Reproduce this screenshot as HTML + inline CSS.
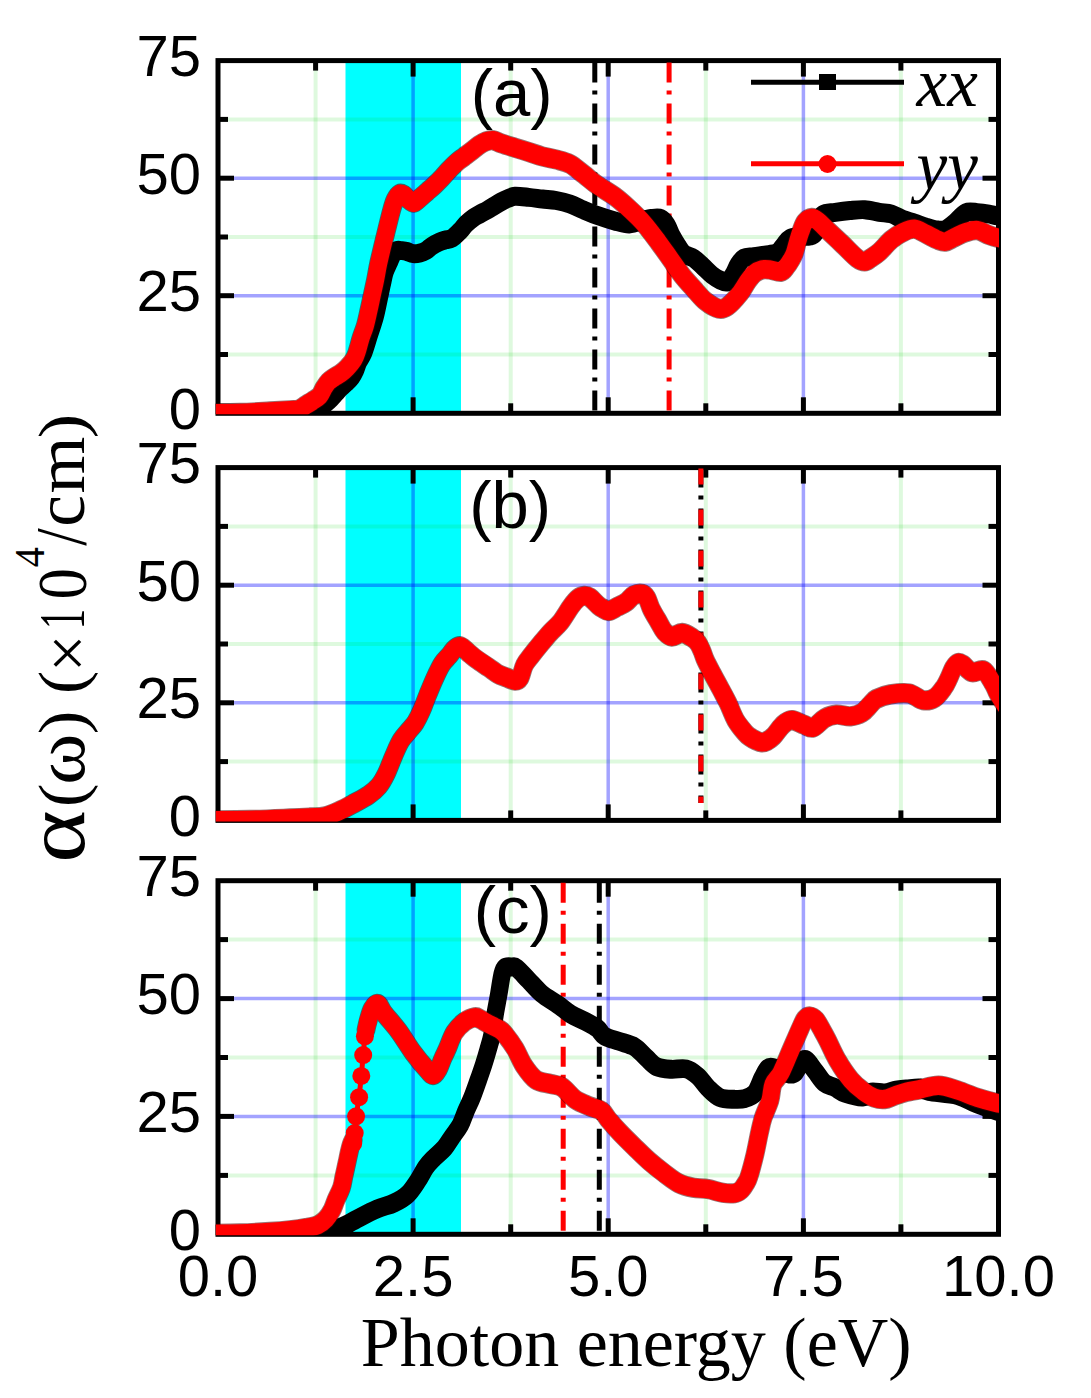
<!DOCTYPE html>
<html><head><meta charset="utf-8"><style>
html,body{margin:0;padding:0;background:#fff;}
svg{display:block;}
.gm{stroke:rgba(0,210,0,0.13);stroke-width:4;}
.gM{stroke:rgba(0,0,255,0.36);stroke-width:3.5;}
.tk{stroke:#000;stroke-width:5;}
text{font-family:"Liberation Sans",sans-serif;}
.yl{font-size:58px;text-anchor:end;}
.xl{font-size:58px;text-anchor:middle;}
.pl{font-size:67px;}
.lg{font-family:"Liberation Serif",serif;font-style:italic;font-size:69px;}
.xt{font-family:"Liberation Serif",serif;font-size:70px;}
.yt{font-family:"Liberation Serif",serif;font-size:100px;}
</style></head><body>
<svg width="1091" height="1398" viewBox="0 0 1091 1398">
<defs><clipPath id="cpa"><rect x="215.8" y="58.1" width="783.2" height="356.2"/></clipPath><clipPath id="cpb"><rect x="215.8" y="465.1" width="783.2" height="356.3"/></clipPath><clipPath id="cpc"><rect x="215.8" y="878.2" width="783.2" height="357.1"/></clipPath></defs>
<g><rect x="0" y="0" width="1091" height="1398" fill="#fff"/>
<rect x="345.5" y="60.6" width="115.5" height="352.7" fill="#00ffff"/>
<line x1="315.6" y1="60.6" x2="315.6" y2="413.3" class="gm"/>
<line x1="510.7" y1="60.6" x2="510.7" y2="413.3" class="gm"/>
<line x1="705.8" y1="60.6" x2="705.8" y2="413.3" class="gm"/>
<line x1="900.9" y1="60.6" x2="900.9" y2="413.3" class="gm"/>
<line x1="218.0" y1="354.5" x2="998.5" y2="354.5" class="gm"/>
<line x1="218.0" y1="237.0" x2="998.5" y2="237.0" class="gm"/>
<line x1="218.0" y1="119.4" x2="998.5" y2="119.4" class="gm"/>
<line x1="413.1" y1="60.6" x2="413.1" y2="413.3" class="gM"/>
<line x1="608.2" y1="60.6" x2="608.2" y2="413.3" class="gM"/>
<line x1="803.4" y1="60.6" x2="803.4" y2="413.3" class="gM"/>
<line x1="218.0" y1="295.7" x2="998.5" y2="295.7" class="gM"/>
<line x1="218.0" y1="178.2" x2="998.5" y2="178.2" class="gM"/>
<line x1="413.1" y1="60.6" x2="413.1" y2="76.6" class="tk"/>
<line x1="413.1" y1="413.3" x2="413.1" y2="397.3" class="tk"/>
<line x1="608.2" y1="60.6" x2="608.2" y2="76.6" class="tk"/>
<line x1="608.2" y1="413.3" x2="608.2" y2="397.3" class="tk"/>
<line x1="803.4" y1="60.6" x2="803.4" y2="76.6" class="tk"/>
<line x1="803.4" y1="413.3" x2="803.4" y2="397.3" class="tk"/>
<line x1="315.6" y1="60.6" x2="315.6" y2="70.6" class="tk"/>
<line x1="315.6" y1="413.3" x2="315.6" y2="403.3" class="tk"/>
<line x1="510.7" y1="60.6" x2="510.7" y2="70.6" class="tk"/>
<line x1="510.7" y1="413.3" x2="510.7" y2="403.3" class="tk"/>
<line x1="705.8" y1="60.6" x2="705.8" y2="70.6" class="tk"/>
<line x1="705.8" y1="413.3" x2="705.8" y2="403.3" class="tk"/>
<line x1="900.9" y1="60.6" x2="900.9" y2="70.6" class="tk"/>
<line x1="900.9" y1="413.3" x2="900.9" y2="403.3" class="tk"/>
<line x1="218.0" y1="295.7" x2="234.0" y2="295.7" class="tk"/>
<line x1="998.5" y1="295.7" x2="982.5" y2="295.7" class="tk"/>
<line x1="218.0" y1="178.2" x2="234.0" y2="178.2" class="tk"/>
<line x1="998.5" y1="178.2" x2="982.5" y2="178.2" class="tk"/>
<line x1="218.0" y1="354.5" x2="228.0" y2="354.5" class="tk"/>
<line x1="998.5" y1="354.5" x2="988.5" y2="354.5" class="tk"/>
<line x1="218.0" y1="237.0" x2="228.0" y2="237.0" class="tk"/>
<line x1="998.5" y1="237.0" x2="988.5" y2="237.0" class="tk"/>
<line x1="218.0" y1="119.4" x2="228.0" y2="119.4" class="tk"/>
<line x1="998.5" y1="119.4" x2="988.5" y2="119.4" class="tk"/>
<rect x="218.0" y="60.6" width="780.5" height="352.7" fill="none" stroke="#000" stroke-width="5.0"/>
<text x="201" y="428.9" class="yl">0</text>
<text x="201" y="311.3" class="yl">25</text>
<text x="201" y="193.8" class="yl">50</text>
<text x="201" y="76.2" class="yl">75</text>
<text x="470.7" y="116.1" class="pl">(a)</text>
<rect x="345.5" y="467.6" width="115.5" height="352.8" fill="#00ffff"/>
<line x1="315.6" y1="467.6" x2="315.6" y2="820.4" class="gm"/>
<line x1="510.7" y1="467.6" x2="510.7" y2="820.4" class="gm"/>
<line x1="705.8" y1="467.6" x2="705.8" y2="820.4" class="gm"/>
<line x1="900.9" y1="467.6" x2="900.9" y2="820.4" class="gm"/>
<line x1="218.0" y1="761.6" x2="998.5" y2="761.6" class="gm"/>
<line x1="218.0" y1="644.0" x2="998.5" y2="644.0" class="gm"/>
<line x1="218.0" y1="526.4" x2="998.5" y2="526.4" class="gm"/>
<line x1="413.1" y1="467.6" x2="413.1" y2="820.4" class="gM"/>
<line x1="608.2" y1="467.6" x2="608.2" y2="820.4" class="gM"/>
<line x1="803.4" y1="467.6" x2="803.4" y2="820.4" class="gM"/>
<line x1="218.0" y1="702.8" x2="998.5" y2="702.8" class="gM"/>
<line x1="218.0" y1="585.2" x2="998.5" y2="585.2" class="gM"/>
<line x1="413.1" y1="467.6" x2="413.1" y2="483.6" class="tk"/>
<line x1="413.1" y1="820.4" x2="413.1" y2="804.4" class="tk"/>
<line x1="608.2" y1="467.6" x2="608.2" y2="483.6" class="tk"/>
<line x1="608.2" y1="820.4" x2="608.2" y2="804.4" class="tk"/>
<line x1="803.4" y1="467.6" x2="803.4" y2="483.6" class="tk"/>
<line x1="803.4" y1="820.4" x2="803.4" y2="804.4" class="tk"/>
<line x1="315.6" y1="467.6" x2="315.6" y2="477.6" class="tk"/>
<line x1="315.6" y1="820.4" x2="315.6" y2="810.4" class="tk"/>
<line x1="510.7" y1="467.6" x2="510.7" y2="477.6" class="tk"/>
<line x1="510.7" y1="820.4" x2="510.7" y2="810.4" class="tk"/>
<line x1="705.8" y1="467.6" x2="705.8" y2="477.6" class="tk"/>
<line x1="705.8" y1="820.4" x2="705.8" y2="810.4" class="tk"/>
<line x1="900.9" y1="467.6" x2="900.9" y2="477.6" class="tk"/>
<line x1="900.9" y1="820.4" x2="900.9" y2="810.4" class="tk"/>
<line x1="218.0" y1="702.8" x2="234.0" y2="702.8" class="tk"/>
<line x1="998.5" y1="702.8" x2="982.5" y2="702.8" class="tk"/>
<line x1="218.0" y1="585.2" x2="234.0" y2="585.2" class="tk"/>
<line x1="998.5" y1="585.2" x2="982.5" y2="585.2" class="tk"/>
<line x1="218.0" y1="761.6" x2="228.0" y2="761.6" class="tk"/>
<line x1="998.5" y1="761.6" x2="988.5" y2="761.6" class="tk"/>
<line x1="218.0" y1="644.0" x2="228.0" y2="644.0" class="tk"/>
<line x1="998.5" y1="644.0" x2="988.5" y2="644.0" class="tk"/>
<line x1="218.0" y1="526.4" x2="228.0" y2="526.4" class="tk"/>
<line x1="998.5" y1="526.4" x2="988.5" y2="526.4" class="tk"/>
<rect x="218.0" y="467.6" width="780.5" height="352.8" fill="none" stroke="#000" stroke-width="5.0"/>
<text x="201" y="836.0" class="yl">0</text>
<text x="201" y="718.4" class="yl">25</text>
<text x="201" y="600.8" class="yl">50</text>
<text x="201" y="483.2" class="yl">75</text>
<text x="469.2" y="528.0" class="pl">(b)</text>
<rect x="345.5" y="880.7" width="115.5" height="353.6" fill="#00ffff"/>
<line x1="315.6" y1="880.7" x2="315.6" y2="1234.3" class="gm"/>
<line x1="510.7" y1="880.7" x2="510.7" y2="1234.3" class="gm"/>
<line x1="705.8" y1="880.7" x2="705.8" y2="1234.3" class="gm"/>
<line x1="900.9" y1="880.7" x2="900.9" y2="1234.3" class="gm"/>
<line x1="218.0" y1="1175.4" x2="998.5" y2="1175.4" class="gm"/>
<line x1="218.0" y1="1057.5" x2="998.5" y2="1057.5" class="gm"/>
<line x1="218.0" y1="939.6" x2="998.5" y2="939.6" class="gm"/>
<line x1="413.1" y1="880.7" x2="413.1" y2="1234.3" class="gM"/>
<line x1="608.2" y1="880.7" x2="608.2" y2="1234.3" class="gM"/>
<line x1="803.4" y1="880.7" x2="803.4" y2="1234.3" class="gM"/>
<line x1="218.0" y1="1116.4" x2="998.5" y2="1116.4" class="gM"/>
<line x1="218.0" y1="998.6" x2="998.5" y2="998.6" class="gM"/>
<line x1="413.1" y1="880.7" x2="413.1" y2="896.7" class="tk"/>
<line x1="413.1" y1="1234.3" x2="413.1" y2="1218.3" class="tk"/>
<line x1="608.2" y1="880.7" x2="608.2" y2="896.7" class="tk"/>
<line x1="608.2" y1="1234.3" x2="608.2" y2="1218.3" class="tk"/>
<line x1="803.4" y1="880.7" x2="803.4" y2="896.7" class="tk"/>
<line x1="803.4" y1="1234.3" x2="803.4" y2="1218.3" class="tk"/>
<line x1="315.6" y1="880.7" x2="315.6" y2="890.7" class="tk"/>
<line x1="315.6" y1="1234.3" x2="315.6" y2="1224.3" class="tk"/>
<line x1="510.7" y1="880.7" x2="510.7" y2="890.7" class="tk"/>
<line x1="510.7" y1="1234.3" x2="510.7" y2="1224.3" class="tk"/>
<line x1="705.8" y1="880.7" x2="705.8" y2="890.7" class="tk"/>
<line x1="705.8" y1="1234.3" x2="705.8" y2="1224.3" class="tk"/>
<line x1="900.9" y1="880.7" x2="900.9" y2="890.7" class="tk"/>
<line x1="900.9" y1="1234.3" x2="900.9" y2="1224.3" class="tk"/>
<line x1="218.0" y1="1116.4" x2="234.0" y2="1116.4" class="tk"/>
<line x1="998.5" y1="1116.4" x2="982.5" y2="1116.4" class="tk"/>
<line x1="218.0" y1="998.6" x2="234.0" y2="998.6" class="tk"/>
<line x1="998.5" y1="998.6" x2="982.5" y2="998.6" class="tk"/>
<line x1="218.0" y1="1175.4" x2="228.0" y2="1175.4" class="tk"/>
<line x1="998.5" y1="1175.4" x2="988.5" y2="1175.4" class="tk"/>
<line x1="218.0" y1="1057.5" x2="228.0" y2="1057.5" class="tk"/>
<line x1="998.5" y1="1057.5" x2="988.5" y2="1057.5" class="tk"/>
<line x1="218.0" y1="939.6" x2="228.0" y2="939.6" class="tk"/>
<line x1="998.5" y1="939.6" x2="988.5" y2="939.6" class="tk"/>
<rect x="218.0" y="880.7" width="780.5" height="353.6" fill="none" stroke="#000" stroke-width="5.0"/>
<text x="201" y="1249.9" class="yl">0</text>
<text x="201" y="1132.0" class="yl">25</text>
<text x="201" y="1014.2" class="yl">50</text>
<text x="201" y="896.3" class="yl">75</text>
<text x="473.7" y="933.1" class="pl">(c)</text>
<line x1="594.8" y1="62.6" x2="594.8" y2="411.3" stroke="#000" stroke-width="5" stroke-dasharray="20 8 4 9" stroke-dashoffset="0.0"/>
<line x1="669.1" y1="62.6" x2="669.1" y2="411.3" stroke="#ff0000" stroke-width="5" stroke-dasharray="20 8 4 9" stroke-dashoffset="0.0"/>
<line x1="700.9" y1="467.6" x2="700.9" y2="803.0" stroke="#000" stroke-width="5" stroke-dasharray="20 8 4 9"/>
<line x1="700.9" y1="467.6" x2="700.9" y2="803.0" stroke="#ff0000" stroke-width="5" stroke-dasharray="16 12 0 13" stroke-dashoffset="-1"/>
<line x1="563.2" y1="882.7" x2="563.2" y2="1232.3" stroke="#ff0000" stroke-width="5" stroke-dasharray="20 8 4 9" stroke-dashoffset="0.0"/>
<line x1="599.3" y1="882.7" x2="599.3" y2="1232.3" stroke="#000" stroke-width="5" stroke-dasharray="20 8 4 9" stroke-dashoffset="0.0"/>
<g clip-path="url(#cpa)"><g transform="scale(1,1.080)"><path d="M205.00,382.69C222.50,382.64 291.17,382.92 310.00,382.41C328.83,381.90 315.50,381.02 318.00,379.63C320.50,378.24 322.83,375.85 325.00,374.07C327.17,372.30 329.17,370.68 331.00,368.98C332.83,367.28 334.43,365.51 336.00,363.89C337.57,362.27 338.73,360.80 340.40,359.26C342.07,357.72 344.13,356.30 346.00,354.63C347.87,352.96 350.02,351.27 351.60,349.26C353.18,347.25 354.35,344.94 355.50,342.59C356.65,340.25 357.17,337.81 358.50,335.19C359.83,332.56 361.75,330.86 363.50,326.85C365.25,322.84 367.08,316.67 369.00,311.11C370.92,305.56 373.37,299.07 375.00,293.52C376.63,287.96 377.63,282.72 378.80,277.78C379.97,272.84 380.97,268.21 382.00,263.89C383.03,259.57 383.83,255.29 385.00,251.85C386.17,248.41 387.67,246.02 389.00,243.24C390.33,240.46 391.67,237.07 393.00,235.19C394.33,233.30 395.50,232.45 397.00,231.94C398.50,231.44 400.33,231.98 402.00,232.13C403.67,232.28 405.10,232.41 407.00,232.87C408.90,233.33 411.23,234.68 413.40,234.91C415.57,235.14 417.87,234.75 420.00,234.26C422.13,233.77 424.20,233.02 426.20,231.94C428.20,230.86 429.85,229.07 432.00,227.78C434.15,226.48 436.93,225.09 439.10,224.17C441.27,223.24 442.87,222.81 445.00,222.22C447.13,221.64 449.40,222.04 451.90,220.65C454.40,219.26 457.65,216.10 460.00,213.89C462.35,211.68 463.72,209.48 466.00,207.41C468.28,205.34 471.37,203.02 473.70,201.48C476.03,199.94 477.70,199.32 480.00,198.15C482.30,196.98 485.17,195.68 487.50,194.44C489.83,193.21 491.72,192.01 494.00,190.74C496.28,189.48 498.87,188.01 501.20,186.85C503.53,185.69 505.70,184.65 508.00,183.80C510.30,182.95 511.55,181.94 515.00,181.76C518.45,181.57 524.12,182.27 528.70,182.69C533.28,183.10 537.92,183.77 542.50,184.26C547.08,184.75 551.62,184.89 556.20,185.65C560.78,186.40 565.42,187.33 570.00,188.80C574.58,190.26 579.12,192.64 583.70,194.44C588.28,196.25 592.33,197.93 597.50,199.63C602.67,201.33 609.40,203.33 614.70,204.63C620.00,205.93 624.42,207.56 629.30,207.41C634.18,207.25 640.38,204.55 644.00,203.70C647.62,202.85 648.17,202.55 651.00,202.31C653.83,202.08 658.33,201.31 661.00,202.31C663.67,203.32 665.17,205.63 667.00,208.33C668.83,211.03 670.17,215.28 672.00,218.52C673.83,221.76 676.00,225.00 678.00,227.78C680.00,230.56 681.33,233.26 684.00,235.19C686.67,237.11 690.83,237.42 694.00,239.35C697.17,241.28 700.00,244.21 703.00,246.76C706.00,249.31 709.17,252.55 712.00,254.63C714.83,256.71 717.50,258.18 720.00,259.26C722.50,260.34 724.83,261.88 727.00,261.11C729.17,260.34 731.17,257.25 733.00,254.63C734.83,252.01 736.17,247.99 738.00,245.37C739.83,242.75 741.33,240.20 744.00,238.89C746.67,237.58 749.78,238.04 754.00,237.50C758.22,236.96 765.30,236.34 769.30,235.65C773.30,234.95 775.55,234.80 778.00,233.33C780.45,231.87 782.00,228.94 784.00,226.85C786.00,224.77 787.33,222.15 790.00,220.83C792.67,219.52 796.67,219.37 800.00,218.98C803.33,218.60 807.50,219.06 810.00,218.52C812.50,217.98 813.50,217.90 815.00,215.74C816.50,213.58 817.67,208.41 819.00,205.56C820.33,202.70 820.28,200.11 823.00,198.61C825.72,197.11 830.80,197.19 835.30,196.57C839.80,195.96 845.10,195.31 850.00,194.91C854.90,194.51 859.82,193.89 864.70,194.17C869.58,194.44 874.83,195.91 879.30,196.57C883.77,197.24 887.57,197.04 891.50,198.15C895.43,199.26 899.08,201.85 902.90,203.24C906.72,204.63 910.58,205.32 914.40,206.48C918.22,207.64 921.98,209.10 925.80,210.19C929.62,211.27 934.05,212.58 937.30,212.96C940.55,213.35 942.43,213.58 945.30,212.50C948.17,211.42 951.07,209.09 954.50,206.48C957.93,203.87 962.08,198.46 965.90,196.85C969.72,195.25 973.58,196.64 977.40,196.85C981.22,197.07 985.37,197.62 988.80,198.15C992.23,198.67 994.47,199.54 998.00,200.00C1001.53,200.46 1008.00,200.77 1010.00,200.93" fill="none" stroke="#000" stroke-width="17.50" stroke-linejoin="round" stroke-linecap="round"/><path d="M205.00,382.69C210.83,382.64 229.17,382.69 240.00,382.41C250.83,382.13 261.67,381.44 270.00,381.02C278.33,380.60 285.17,380.23 290.00,379.91C294.83,379.58 296.33,379.89 299.00,379.07C301.67,378.26 303.75,376.30 306.00,375.00C308.25,373.70 310.22,372.72 312.50,371.30C314.78,369.88 317.78,368.49 319.70,366.48C321.62,364.48 322.53,361.44 324.00,359.26C325.47,357.08 326.83,355.05 328.50,353.43C330.17,351.81 331.95,350.82 334.00,349.54C336.05,348.26 338.63,347.21 340.80,345.74C342.97,344.27 344.80,342.92 347.00,340.74C349.20,338.56 352.25,335.39 354.00,332.69C355.75,329.98 356.33,327.82 357.50,324.54C358.67,321.25 359.70,316.79 361.00,312.96C362.30,309.14 363.97,305.90 365.30,301.57C366.63,297.25 367.83,291.82 369.00,287.04C370.17,282.25 371.22,277.50 372.30,272.87C373.38,268.24 374.42,264.20 375.50,259.26C376.58,254.32 377.23,249.88 378.80,243.24C380.37,236.60 382.82,227.38 384.90,219.44C386.98,211.51 389.62,201.36 391.30,195.65C392.98,189.94 393.63,187.85 395.00,185.19C396.37,182.52 398.00,180.40 399.50,179.63C401.00,178.86 402.58,179.78 404.00,180.56C405.42,181.33 406.37,183.07 408.00,184.26C409.63,185.45 411.80,187.84 413.80,187.69C415.80,187.53 417.75,185.05 420.00,183.33C422.25,181.62 424.85,179.41 427.30,177.41C429.75,175.40 432.25,173.44 434.70,171.30C437.15,169.15 439.57,166.91 442.00,164.54C444.43,162.16 446.85,159.41 449.30,157.04C451.75,154.66 454.25,152.25 456.70,150.28C459.15,148.30 461.57,146.88 464.00,145.19C466.43,143.49 468.85,141.85 471.30,140.09C473.75,138.33 476.25,136.16 478.70,134.63C481.15,133.10 483.57,131.71 486.00,130.93C488.43,130.14 490.77,129.60 493.30,129.91C495.83,130.22 497.58,131.62 501.20,132.78C504.82,133.94 510.42,135.52 515.00,136.85C519.58,138.18 524.12,139.40 528.70,140.74C533.28,142.08 537.92,143.75 542.50,144.91C547.08,146.06 551.62,146.53 556.20,147.69C560.78,148.84 565.42,149.57 570.00,151.85C574.58,154.14 579.12,158.10 583.70,161.39C588.28,164.68 592.33,168.16 597.50,171.57C602.67,174.98 609.40,178.21 614.70,181.85C620.00,185.49 624.42,189.23 629.30,193.43C634.18,197.62 639.10,201.85 644.00,207.04C648.90,212.22 654.30,219.09 658.70,224.54C663.10,229.98 666.50,234.65 670.40,239.72C674.30,244.80 678.18,250.37 682.10,255.00C686.02,259.63 689.98,263.50 693.90,267.50C697.82,271.50 701.45,275.94 705.60,278.98C709.75,282.02 715.13,284.97 718.80,285.74C722.47,286.51 724.18,285.83 727.60,283.61C731.02,281.39 735.88,276.34 739.30,272.41C742.72,268.47 745.53,263.24 748.10,260.00C750.67,256.76 752.38,254.71 754.70,252.96C757.02,251.22 759.57,250.11 762.00,249.54C764.43,248.97 766.12,249.20 769.30,249.54C772.48,249.88 778.15,252.11 781.10,251.57C784.05,251.03 785.35,248.10 787.00,246.30C788.65,244.49 789.78,242.70 791.00,240.74C792.22,238.78 793.22,237.31 794.30,234.54C795.38,231.76 796.40,227.47 797.50,224.07C798.60,220.68 799.65,217.25 800.90,214.17C802.15,211.08 803.17,207.61 805.00,205.56C806.83,203.50 809.73,202.01 811.90,201.85C814.07,201.70 815.32,202.69 818.00,204.63C820.68,206.57 823.88,209.89 828.00,213.52C832.12,217.15 837.82,222.08 842.70,226.39C847.58,230.69 853.63,236.74 857.30,239.35C860.97,241.96 862.42,242.11 864.70,242.04C866.98,241.96 868.57,240.34 871.00,238.89C873.43,237.44 875.88,236.17 879.30,233.33C882.72,230.49 887.57,224.91 891.50,221.85C895.43,218.80 899.08,216.68 902.90,215.00C906.72,213.32 910.58,211.51 914.40,211.76C918.22,212.01 921.98,214.80 925.80,216.48C929.62,218.16 934.05,220.65 937.30,221.85C940.55,223.06 942.43,224.06 945.30,223.70C948.17,223.35 951.07,221.17 954.50,219.72C957.93,218.27 962.08,216.11 965.90,215.00C969.72,213.89 973.58,212.62 977.40,213.06C981.22,213.49 985.37,216.40 988.80,217.59C992.23,218.78 994.47,219.41 998.00,220.19C1001.53,220.96 1008.00,221.88 1010.00,222.22" fill="none" stroke="rgba(70,0,0,0.55)" stroke-width="18.80" stroke-linejoin="round" stroke-linecap="round"/><path d="M205.00,382.69C210.83,382.64 229.17,382.69 240.00,382.41C250.83,382.13 261.67,381.44 270.00,381.02C278.33,380.60 285.17,380.23 290.00,379.91C294.83,379.58 296.33,379.89 299.00,379.07C301.67,378.26 303.75,376.30 306.00,375.00C308.25,373.70 310.22,372.72 312.50,371.30C314.78,369.88 317.78,368.49 319.70,366.48C321.62,364.48 322.53,361.44 324.00,359.26C325.47,357.08 326.83,355.05 328.50,353.43C330.17,351.81 331.95,350.82 334.00,349.54C336.05,348.26 338.63,347.21 340.80,345.74C342.97,344.27 344.80,342.92 347.00,340.74C349.20,338.56 352.25,335.39 354.00,332.69C355.75,329.98 356.33,327.82 357.50,324.54C358.67,321.25 359.70,316.79 361.00,312.96C362.30,309.14 363.97,305.90 365.30,301.57C366.63,297.25 367.83,291.82 369.00,287.04C370.17,282.25 371.22,277.50 372.30,272.87C373.38,268.24 374.42,264.20 375.50,259.26C376.58,254.32 377.23,249.88 378.80,243.24C380.37,236.60 382.82,227.38 384.90,219.44C386.98,211.51 389.62,201.36 391.30,195.65C392.98,189.94 393.63,187.85 395.00,185.19C396.37,182.52 398.00,180.40 399.50,179.63C401.00,178.86 402.58,179.78 404.00,180.56C405.42,181.33 406.37,183.07 408.00,184.26C409.63,185.45 411.80,187.84 413.80,187.69C415.80,187.53 417.75,185.05 420.00,183.33C422.25,181.62 424.85,179.41 427.30,177.41C429.75,175.40 432.25,173.44 434.70,171.30C437.15,169.15 439.57,166.91 442.00,164.54C444.43,162.16 446.85,159.41 449.30,157.04C451.75,154.66 454.25,152.25 456.70,150.28C459.15,148.30 461.57,146.88 464.00,145.19C466.43,143.49 468.85,141.85 471.30,140.09C473.75,138.33 476.25,136.16 478.70,134.63C481.15,133.10 483.57,131.71 486.00,130.93C488.43,130.14 490.77,129.60 493.30,129.91C495.83,130.22 497.58,131.62 501.20,132.78C504.82,133.94 510.42,135.52 515.00,136.85C519.58,138.18 524.12,139.40 528.70,140.74C533.28,142.08 537.92,143.75 542.50,144.91C547.08,146.06 551.62,146.53 556.20,147.69C560.78,148.84 565.42,149.57 570.00,151.85C574.58,154.14 579.12,158.10 583.70,161.39C588.28,164.68 592.33,168.16 597.50,171.57C602.67,174.98 609.40,178.21 614.70,181.85C620.00,185.49 624.42,189.23 629.30,193.43C634.18,197.62 639.10,201.85 644.00,207.04C648.90,212.22 654.30,219.09 658.70,224.54C663.10,229.98 666.50,234.65 670.40,239.72C674.30,244.80 678.18,250.37 682.10,255.00C686.02,259.63 689.98,263.50 693.90,267.50C697.82,271.50 701.45,275.94 705.60,278.98C709.75,282.02 715.13,284.97 718.80,285.74C722.47,286.51 724.18,285.83 727.60,283.61C731.02,281.39 735.88,276.34 739.30,272.41C742.72,268.47 745.53,263.24 748.10,260.00C750.67,256.76 752.38,254.71 754.70,252.96C757.02,251.22 759.57,250.11 762.00,249.54C764.43,248.97 766.12,249.20 769.30,249.54C772.48,249.88 778.15,252.11 781.10,251.57C784.05,251.03 785.35,248.10 787.00,246.30C788.65,244.49 789.78,242.70 791.00,240.74C792.22,238.78 793.22,237.31 794.30,234.54C795.38,231.76 796.40,227.47 797.50,224.07C798.60,220.68 799.65,217.25 800.90,214.17C802.15,211.08 803.17,207.61 805.00,205.56C806.83,203.50 809.73,202.01 811.90,201.85C814.07,201.70 815.32,202.69 818.00,204.63C820.68,206.57 823.88,209.89 828.00,213.52C832.12,217.15 837.82,222.08 842.70,226.39C847.58,230.69 853.63,236.74 857.30,239.35C860.97,241.96 862.42,242.11 864.70,242.04C866.98,241.96 868.57,240.34 871.00,238.89C873.43,237.44 875.88,236.17 879.30,233.33C882.72,230.49 887.57,224.91 891.50,221.85C895.43,218.80 899.08,216.68 902.90,215.00C906.72,213.32 910.58,211.51 914.40,211.76C918.22,212.01 921.98,214.80 925.80,216.48C929.62,218.16 934.05,220.65 937.30,221.85C940.55,223.06 942.43,224.06 945.30,223.70C948.17,223.35 951.07,221.17 954.50,219.72C957.93,218.27 962.08,216.11 965.90,215.00C969.72,213.89 973.58,212.62 977.40,213.06C981.22,213.49 985.37,216.40 988.80,217.59C992.23,218.78 994.47,219.41 998.00,220.19C1001.53,220.96 1008.00,221.88 1010.00,222.22" fill="none" stroke="#ff0000" stroke-width="17.20" stroke-linejoin="round" stroke-linecap="round"/></g></g>
<g clip-path="url(#cpb)"><g transform="scale(1,1.080)"><path d="M205.00,759.63C212.50,759.57 235.83,759.55 250.00,759.26C264.17,758.97 280.00,758.26 290.00,757.87C300.00,757.48 304.22,757.25 310.00,756.94C315.78,756.64 319.82,757.02 324.70,756.02C329.58,755.02 334.42,752.95 339.30,750.93C344.18,748.90 349.10,746.36 354.00,743.89C358.90,741.42 364.55,738.80 368.70,736.11C372.85,733.43 375.97,731.06 378.90,727.78C381.83,724.49 383.85,721.00 386.30,716.39C388.75,711.77 391.17,705.19 393.60,700.09C396.03,695.00 398.22,689.91 400.90,685.83C403.58,681.76 407.25,678.49 409.70,675.65C412.15,672.81 413.63,671.73 415.60,668.80C417.57,665.86 419.55,662.11 421.50,658.06C423.45,654.00 425.10,649.43 427.30,644.44C429.50,639.46 432.25,633.09 434.70,628.15C437.15,623.21 439.57,618.35 442.00,614.81C444.43,611.28 447.13,609.34 449.30,606.94C451.47,604.55 453.05,601.85 455.00,600.46C456.95,599.07 458.50,597.76 461.00,598.61C463.50,599.46 467.33,603.53 470.00,605.56C472.67,607.58 473.88,608.66 477.00,610.74C480.12,612.82 485.28,615.88 488.70,618.06C492.12,620.23 494.57,622.27 497.50,623.80C500.43,625.32 503.37,626.16 506.30,627.22C509.23,628.29 512.82,630.09 515.10,630.19C517.38,630.28 518.43,630.19 520.00,627.78C521.57,625.37 522.62,619.21 524.50,615.74C526.38,612.27 528.70,610.11 531.30,606.94C533.90,603.78 536.93,600.31 540.10,596.76C543.27,593.21 546.88,589.12 550.30,585.65C553.72,582.18 557.17,579.94 560.60,575.93C564.03,571.91 567.97,565.25 570.90,561.57C573.83,557.90 576.00,555.52 578.20,553.89C580.40,552.25 582.15,551.88 584.10,551.76C586.05,551.64 587.47,551.62 589.90,553.15C592.33,554.68 596.52,559.21 598.70,560.93C600.88,562.64 601.32,562.62 603.00,563.43C604.68,564.23 606.37,566.02 608.80,565.74C611.23,565.46 614.67,563.15 617.60,561.76C620.53,560.37 623.72,559.17 626.40,557.41C629.08,555.65 631.02,552.44 633.70,551.20C636.38,549.97 640.28,549.58 642.50,550.00C644.72,550.42 645.53,551.40 647.00,553.70C648.47,556.00 649.35,560.09 651.30,563.80C653.25,567.50 656.50,572.41 658.70,575.93C660.90,579.44 662.30,582.65 664.50,584.91C666.70,587.16 668.97,589.24 671.90,589.44C674.83,589.65 678.68,585.93 682.10,586.11C685.52,586.30 689.75,589.01 692.40,590.56C695.05,592.10 696.40,593.33 698.00,595.37C699.60,597.41 700.77,600.15 702.00,602.78C703.23,605.40 703.73,607.72 705.40,611.11C707.07,614.51 709.37,618.52 712.00,623.15C714.63,627.78 718.53,634.26 721.20,638.89C723.87,643.52 725.60,646.30 728.00,650.93C730.40,655.56 732.73,662.07 735.60,666.67C738.47,671.27 742.80,675.90 745.20,678.52C747.60,681.14 748.30,681.28 750.00,682.41C751.70,683.53 753.45,684.46 755.40,685.28C757.35,686.10 759.77,687.18 761.70,687.31C763.63,687.45 765.05,687.04 767.00,686.11C768.95,685.19 771.23,683.77 773.40,681.76C775.57,679.75 778.05,676.13 780.00,674.07C781.95,672.02 783.08,670.66 785.10,669.44C787.12,668.23 788.98,666.50 792.10,666.76C795.22,667.02 800.30,669.88 803.80,671.02C807.30,672.16 809.60,674.61 813.10,673.61C816.60,672.61 820.90,666.98 824.80,665.00C828.70,663.02 832.22,662.05 836.50,661.76C840.78,661.47 846.22,663.56 850.50,663.24C854.78,662.92 858.95,661.56 862.20,659.81C865.45,658.07 867.67,654.88 870.00,652.78C872.33,650.68 872.82,648.86 876.20,647.22C879.58,645.59 884.83,643.83 890.30,642.96C895.77,642.10 903.55,641.14 909.00,642.04C914.45,642.93 918.72,647.64 923.00,648.33C927.28,649.03 931.20,648.18 934.70,646.20C938.20,644.23 941.62,639.55 944.00,636.48C946.38,633.41 947.43,630.77 949.00,627.78C950.57,624.78 951.90,620.83 953.40,618.52C954.90,616.20 956.45,614.43 958.00,613.89C959.55,613.35 960.35,613.86 962.70,615.28C965.05,616.70 968.58,621.47 972.10,622.41C975.62,623.35 980.30,619.15 983.80,620.93C987.30,622.70 990.77,629.52 993.10,633.06C995.43,636.59 995.82,638.84 997.80,642.13C999.78,645.42 1003.80,651.00 1005.00,652.78" fill="none" stroke="rgba(70,0,0,0.55)" stroke-width="18.80" stroke-linejoin="round" stroke-linecap="round"/><path d="M205.00,759.63C212.50,759.57 235.83,759.55 250.00,759.26C264.17,758.97 280.00,758.26 290.00,757.87C300.00,757.48 304.22,757.25 310.00,756.94C315.78,756.64 319.82,757.02 324.70,756.02C329.58,755.02 334.42,752.95 339.30,750.93C344.18,748.90 349.10,746.36 354.00,743.89C358.90,741.42 364.55,738.80 368.70,736.11C372.85,733.43 375.97,731.06 378.90,727.78C381.83,724.49 383.85,721.00 386.30,716.39C388.75,711.77 391.17,705.19 393.60,700.09C396.03,695.00 398.22,689.91 400.90,685.83C403.58,681.76 407.25,678.49 409.70,675.65C412.15,672.81 413.63,671.73 415.60,668.80C417.57,665.86 419.55,662.11 421.50,658.06C423.45,654.00 425.10,649.43 427.30,644.44C429.50,639.46 432.25,633.09 434.70,628.15C437.15,623.21 439.57,618.35 442.00,614.81C444.43,611.28 447.13,609.34 449.30,606.94C451.47,604.55 453.05,601.85 455.00,600.46C456.95,599.07 458.50,597.76 461.00,598.61C463.50,599.46 467.33,603.53 470.00,605.56C472.67,607.58 473.88,608.66 477.00,610.74C480.12,612.82 485.28,615.88 488.70,618.06C492.12,620.23 494.57,622.27 497.50,623.80C500.43,625.32 503.37,626.16 506.30,627.22C509.23,628.29 512.82,630.09 515.10,630.19C517.38,630.28 518.43,630.19 520.00,627.78C521.57,625.37 522.62,619.21 524.50,615.74C526.38,612.27 528.70,610.11 531.30,606.94C533.90,603.78 536.93,600.31 540.10,596.76C543.27,593.21 546.88,589.12 550.30,585.65C553.72,582.18 557.17,579.94 560.60,575.93C564.03,571.91 567.97,565.25 570.90,561.57C573.83,557.90 576.00,555.52 578.20,553.89C580.40,552.25 582.15,551.88 584.10,551.76C586.05,551.64 587.47,551.62 589.90,553.15C592.33,554.68 596.52,559.21 598.70,560.93C600.88,562.64 601.32,562.62 603.00,563.43C604.68,564.23 606.37,566.02 608.80,565.74C611.23,565.46 614.67,563.15 617.60,561.76C620.53,560.37 623.72,559.17 626.40,557.41C629.08,555.65 631.02,552.44 633.70,551.20C636.38,549.97 640.28,549.58 642.50,550.00C644.72,550.42 645.53,551.40 647.00,553.70C648.47,556.00 649.35,560.09 651.30,563.80C653.25,567.50 656.50,572.41 658.70,575.93C660.90,579.44 662.30,582.65 664.50,584.91C666.70,587.16 668.97,589.24 671.90,589.44C674.83,589.65 678.68,585.93 682.10,586.11C685.52,586.30 689.75,589.01 692.40,590.56C695.05,592.10 696.40,593.33 698.00,595.37C699.60,597.41 700.77,600.15 702.00,602.78C703.23,605.40 703.73,607.72 705.40,611.11C707.07,614.51 709.37,618.52 712.00,623.15C714.63,627.78 718.53,634.26 721.20,638.89C723.87,643.52 725.60,646.30 728.00,650.93C730.40,655.56 732.73,662.07 735.60,666.67C738.47,671.27 742.80,675.90 745.20,678.52C747.60,681.14 748.30,681.28 750.00,682.41C751.70,683.53 753.45,684.46 755.40,685.28C757.35,686.10 759.77,687.18 761.70,687.31C763.63,687.45 765.05,687.04 767.00,686.11C768.95,685.19 771.23,683.77 773.40,681.76C775.57,679.75 778.05,676.13 780.00,674.07C781.95,672.02 783.08,670.66 785.10,669.44C787.12,668.23 788.98,666.50 792.10,666.76C795.22,667.02 800.30,669.88 803.80,671.02C807.30,672.16 809.60,674.61 813.10,673.61C816.60,672.61 820.90,666.98 824.80,665.00C828.70,663.02 832.22,662.05 836.50,661.76C840.78,661.47 846.22,663.56 850.50,663.24C854.78,662.92 858.95,661.56 862.20,659.81C865.45,658.07 867.67,654.88 870.00,652.78C872.33,650.68 872.82,648.86 876.20,647.22C879.58,645.59 884.83,643.83 890.30,642.96C895.77,642.10 903.55,641.14 909.00,642.04C914.45,642.93 918.72,647.64 923.00,648.33C927.28,649.03 931.20,648.18 934.70,646.20C938.20,644.23 941.62,639.55 944.00,636.48C946.38,633.41 947.43,630.77 949.00,627.78C950.57,624.78 951.90,620.83 953.40,618.52C954.90,616.20 956.45,614.43 958.00,613.89C959.55,613.35 960.35,613.86 962.70,615.28C965.05,616.70 968.58,621.47 972.10,622.41C975.62,623.35 980.30,619.15 983.80,620.93C987.30,622.70 990.77,629.52 993.10,633.06C995.43,636.59 995.82,638.84 997.80,642.13C999.78,645.42 1003.80,651.00 1005.00,652.78" fill="none" stroke="#ff0000" stroke-width="17.20" stroke-linejoin="round" stroke-linecap="round"/></g></g>
<g clip-path="url(#cpc)"><g transform="scale(1,1.080)"><path d="M205.00,1142.87C224.17,1142.87 298.50,1143.53 320.00,1142.87C341.50,1142.21 329.67,1140.32 334.00,1138.89C338.33,1137.45 342.10,1136.00 346.00,1134.26C349.90,1132.52 352.23,1130.90 357.40,1128.43C362.57,1125.96 370.90,1121.87 377.00,1119.44C383.10,1117.02 388.92,1116.13 394.00,1113.89C399.08,1111.65 403.50,1109.49 407.50,1106.02C411.50,1102.55 414.92,1097.30 418.00,1093.06C421.08,1088.81 423.33,1084.03 426.00,1080.56C428.67,1077.08 430.92,1075.15 434.00,1072.22C437.08,1069.29 441.50,1066.20 444.50,1062.96C447.50,1059.72 449.37,1056.33 452.00,1052.78C454.63,1049.23 457.97,1045.68 460.30,1041.67C462.63,1037.65 464.05,1032.95 466.00,1028.70C467.95,1024.46 470.00,1020.83 472.00,1016.20C474.00,1011.57 476.08,1005.94 478.00,1000.93C479.92,995.91 481.83,990.90 483.50,986.11C485.17,981.33 486.58,976.85 488.00,972.22C489.42,967.59 490.83,963.73 492.00,958.33C493.17,952.93 493.87,946.14 495.00,939.81C496.13,933.49 497.63,926.54 498.80,920.37C499.97,914.20 500.97,906.87 502.00,902.78C503.03,898.69 503.33,897.07 505.00,895.83C506.67,894.60 510.05,895.29 512.00,895.37C513.95,895.45 513.97,894.29 516.70,896.30C519.43,898.30 524.25,903.46 528.40,907.41C532.55,911.36 536.72,916.22 541.60,920.00C546.48,923.78 552.82,926.91 557.70,930.09C562.58,933.27 566.25,936.45 570.90,939.07C575.55,941.70 581.20,943.66 585.60,945.83C590.00,948.01 594.12,949.86 597.30,952.13C600.48,954.40 601.03,957.42 604.70,959.44C608.37,961.47 614.30,962.61 619.30,964.26C624.30,965.91 630.18,966.82 634.70,969.35C639.22,971.88 642.73,976.39 646.40,979.44C650.07,982.50 652.55,985.91 656.70,987.69C660.85,989.46 666.42,989.75 671.30,990.09C676.18,990.43 681.60,988.69 686.00,989.72C690.40,990.76 694.03,993.35 697.70,996.30C701.37,999.24 704.33,1004.09 708.00,1007.41C711.67,1010.73 715.30,1014.46 719.70,1016.20C724.10,1017.95 730.23,1017.70 734.40,1017.87C738.57,1018.04 741.28,1018.19 744.70,1017.22C748.12,1016.25 751.98,1015.22 754.90,1012.04C757.82,1008.86 760.00,1002.01 762.20,998.15C764.40,994.29 766.02,990.43 768.10,988.89C770.18,987.35 772.38,988.43 774.70,988.89C777.02,989.35 779.57,990.74 782.00,991.67C784.43,992.59 787.10,994.21 789.30,994.44C791.50,994.68 793.23,994.91 795.20,993.06C797.17,991.20 799.47,985.34 801.10,983.33C802.73,981.33 803.78,981.02 805.00,981.02C806.22,981.02 806.62,981.44 808.40,983.33C810.18,985.23 813.02,989.17 815.70,992.41C818.38,995.65 821.32,1000.35 824.50,1002.78C827.68,1005.20 831.37,1005.35 834.80,1006.94C838.23,1008.53 840.45,1010.85 845.10,1012.31C849.75,1013.78 858.30,1015.94 862.70,1015.74C867.10,1015.54 867.83,1011.73 871.50,1011.11C875.17,1010.49 880.55,1012.35 884.70,1012.04C888.85,1011.73 892.75,1009.88 896.40,1009.26C900.05,1008.64 902.67,1008.64 906.60,1008.33C910.53,1008.02 916.28,1007.02 920.00,1007.41C923.72,1007.79 922.62,1009.49 928.90,1010.65C935.18,1011.81 949.68,1012.42 957.70,1014.35C965.72,1016.28 970.58,1019.86 977.00,1022.22C983.42,1024.58 990.70,1026.98 996.20,1028.52C1001.70,1030.06 1007.70,1030.99 1010.00,1031.48" fill="none" stroke="#000" stroke-width="17.50" stroke-linejoin="round" stroke-linecap="round"/><path d="M205.00,1142.59C210.83,1142.52 229.17,1142.44 240.00,1142.13C250.83,1141.82 261.67,1141.23 270.00,1140.74C278.33,1140.25 284.00,1139.78 290.00,1139.17C296.00,1138.55 301.33,1137.85 306.00,1137.04C310.67,1136.22 314.67,1135.65 318.00,1134.26C321.33,1132.87 323.67,1131.02 326.00,1128.70C328.33,1126.39 330.33,1123.30 332.00,1120.37C333.67,1117.44 334.42,1114.55 336.00,1111.11C337.58,1107.67 340.17,1103.43 341.50,1099.72C342.83,1096.02 343.10,1092.70 344.00,1088.89C344.90,1085.08 346.07,1080.40 346.90,1076.85C347.73,1073.30 348.32,1070.37 349.00,1067.59C349.68,1064.81 350.30,1062.19 351.00,1060.19C351.70,1058.18 352.83,1056.33 353.20,1055.56" fill="none" stroke="rgba(70,0,0,0.55)" stroke-width="18.80" stroke-linejoin="round" stroke-linecap="round"/><path d="M205.00,1142.59C210.83,1142.52 229.17,1142.44 240.00,1142.13C250.83,1141.82 261.67,1141.23 270.00,1140.74C278.33,1140.25 284.00,1139.78 290.00,1139.17C296.00,1138.55 301.33,1137.85 306.00,1137.04C310.67,1136.22 314.67,1135.65 318.00,1134.26C321.33,1132.87 323.67,1131.02 326.00,1128.70C328.33,1126.39 330.33,1123.30 332.00,1120.37C333.67,1117.44 334.42,1114.55 336.00,1111.11C337.58,1107.67 340.17,1103.43 341.50,1099.72C342.83,1096.02 343.10,1092.70 344.00,1088.89C344.90,1085.08 346.07,1080.40 346.90,1076.85C347.73,1073.30 348.32,1070.37 349.00,1067.59C349.68,1064.81 350.30,1062.19 351.00,1060.19C351.70,1058.18 352.83,1056.33 353.20,1055.56" fill="none" stroke="#ff0000" stroke-width="17.20" stroke-linejoin="round" stroke-linecap="round"/><path d="M366.00,953.70C366.32,952.42 366.90,949.26 367.90,946.02C368.90,942.78 370.32,936.99 372.00,934.26C373.68,931.53 376.00,928.98 378.00,929.63C380.00,930.28 380.55,933.97 384.00,938.15C387.45,942.33 393.82,948.61 398.70,954.72C403.58,960.83 408.42,968.70 413.30,974.81C418.18,980.93 424.63,987.96 428.00,991.39C431.37,994.81 431.75,995.63 433.50,995.37C435.25,995.11 436.92,992.44 438.50,989.81C440.08,987.19 441.57,982.67 443.00,979.63C444.43,976.59 445.20,975.49 447.10,971.57C449.00,967.65 451.47,960.37 454.40,956.11C457.33,951.85 461.28,948.38 464.70,946.02C468.12,943.66 472.35,942.36 474.90,941.94C477.45,941.53 478.05,942.69 480.00,943.52C481.95,944.35 484.15,945.71 486.60,946.94C489.05,948.18 492.47,949.83 494.70,950.93C496.93,952.02 498.30,952.39 500.00,953.52C501.70,954.65 502.37,954.75 504.90,957.69C507.43,960.62 512.02,966.25 515.20,971.11C518.38,975.97 520.58,982.10 524.00,986.85C527.42,991.60 531.30,996.84 535.70,999.63C540.10,1002.42 546.00,1002.45 550.40,1003.61C554.80,1004.77 557.95,1004.17 562.10,1006.57C566.25,1008.98 570.65,1015.06 575.30,1018.06C579.95,1021.05 585.60,1022.76 590.00,1024.54C594.40,1026.31 598.57,1026.62 601.70,1028.70C604.83,1030.79 605.75,1033.70 608.80,1037.04C611.85,1040.37 615.68,1044.49 620.00,1048.70C624.32,1052.92 629.82,1057.90 634.70,1062.31C639.58,1066.73 644.42,1071.22 649.30,1075.19C654.18,1079.15 659.10,1082.72 664.00,1086.11C668.90,1089.51 673.82,1093.29 678.70,1095.56C683.58,1097.82 688.42,1098.81 693.30,1099.72C698.18,1100.63 703.10,1100.23 708.00,1101.02C712.90,1101.81 718.30,1103.81 722.70,1104.44C727.10,1105.08 731.35,1105.25 734.40,1104.81C737.45,1104.38 739.07,1103.43 741.00,1101.85C742.93,1100.28 744.67,1097.44 746.00,1095.37C747.33,1093.30 747.52,1093.81 749.00,1089.44C750.48,1085.08 753.15,1075.94 754.90,1069.17C756.65,1062.39 758.13,1054.46 759.50,1048.80C760.87,1043.13 761.35,1040.20 763.10,1035.19C764.85,1030.17 768.35,1023.90 770.00,1018.70C771.65,1013.50 771.17,1008.23 773.00,1003.98C774.83,999.74 778.07,998.43 781.00,993.24C783.93,988.06 787.40,979.66 790.60,972.87C793.80,966.08 797.80,957.39 800.20,952.50C802.60,947.61 803.37,945.40 805.00,943.52C806.63,941.64 808.17,941.05 810.00,941.20C811.83,941.36 814.00,942.36 816.00,944.44C818.00,946.53 820.10,950.62 822.00,953.70C823.90,956.79 824.85,958.33 827.40,962.96C829.95,967.59 833.38,975.31 837.30,981.48C841.22,987.65 846.67,995.25 850.90,1000.00C855.13,1004.75 858.78,1007.27 862.70,1010.00C866.62,1012.73 870.73,1015.11 874.40,1016.39C878.07,1017.67 881.28,1018.02 884.70,1017.69C888.12,1017.35 891.25,1015.48 894.90,1014.35C898.55,1013.23 902.55,1011.85 906.60,1010.93C910.65,1010.00 913.88,1009.75 919.20,1008.80C924.52,1007.84 932.08,1005.05 938.50,1005.19C944.92,1005.32 951.28,1007.76 957.70,1009.63C964.12,1011.50 970.58,1014.46 977.00,1016.39C983.42,1018.32 990.70,1020.08 996.20,1021.20C1001.70,1022.33 1007.70,1022.82 1010.00,1023.15" fill="none" stroke="rgba(70,0,0,0.55)" stroke-width="18.80" stroke-linejoin="round" stroke-linecap="round"/><path d="M366.00,953.70C366.32,952.42 366.90,949.26 367.90,946.02C368.90,942.78 370.32,936.99 372.00,934.26C373.68,931.53 376.00,928.98 378.00,929.63C380.00,930.28 380.55,933.97 384.00,938.15C387.45,942.33 393.82,948.61 398.70,954.72C403.58,960.83 408.42,968.70 413.30,974.81C418.18,980.93 424.63,987.96 428.00,991.39C431.37,994.81 431.75,995.63 433.50,995.37C435.25,995.11 436.92,992.44 438.50,989.81C440.08,987.19 441.57,982.67 443.00,979.63C444.43,976.59 445.20,975.49 447.10,971.57C449.00,967.65 451.47,960.37 454.40,956.11C457.33,951.85 461.28,948.38 464.70,946.02C468.12,943.66 472.35,942.36 474.90,941.94C477.45,941.53 478.05,942.69 480.00,943.52C481.95,944.35 484.15,945.71 486.60,946.94C489.05,948.18 492.47,949.83 494.70,950.93C496.93,952.02 498.30,952.39 500.00,953.52C501.70,954.65 502.37,954.75 504.90,957.69C507.43,960.62 512.02,966.25 515.20,971.11C518.38,975.97 520.58,982.10 524.00,986.85C527.42,991.60 531.30,996.84 535.70,999.63C540.10,1002.42 546.00,1002.45 550.40,1003.61C554.80,1004.77 557.95,1004.17 562.10,1006.57C566.25,1008.98 570.65,1015.06 575.30,1018.06C579.95,1021.05 585.60,1022.76 590.00,1024.54C594.40,1026.31 598.57,1026.62 601.70,1028.70C604.83,1030.79 605.75,1033.70 608.80,1037.04C611.85,1040.37 615.68,1044.49 620.00,1048.70C624.32,1052.92 629.82,1057.90 634.70,1062.31C639.58,1066.73 644.42,1071.22 649.30,1075.19C654.18,1079.15 659.10,1082.72 664.00,1086.11C668.90,1089.51 673.82,1093.29 678.70,1095.56C683.58,1097.82 688.42,1098.81 693.30,1099.72C698.18,1100.63 703.10,1100.23 708.00,1101.02C712.90,1101.81 718.30,1103.81 722.70,1104.44C727.10,1105.08 731.35,1105.25 734.40,1104.81C737.45,1104.38 739.07,1103.43 741.00,1101.85C742.93,1100.28 744.67,1097.44 746.00,1095.37C747.33,1093.30 747.52,1093.81 749.00,1089.44C750.48,1085.08 753.15,1075.94 754.90,1069.17C756.65,1062.39 758.13,1054.46 759.50,1048.80C760.87,1043.13 761.35,1040.20 763.10,1035.19C764.85,1030.17 768.35,1023.90 770.00,1018.70C771.65,1013.50 771.17,1008.23 773.00,1003.98C774.83,999.74 778.07,998.43 781.00,993.24C783.93,988.06 787.40,979.66 790.60,972.87C793.80,966.08 797.80,957.39 800.20,952.50C802.60,947.61 803.37,945.40 805.00,943.52C806.63,941.64 808.17,941.05 810.00,941.20C811.83,941.36 814.00,942.36 816.00,944.44C818.00,946.53 820.10,950.62 822.00,953.70C823.90,956.79 824.85,958.33 827.40,962.96C829.95,967.59 833.38,975.31 837.30,981.48C841.22,987.65 846.67,995.25 850.90,1000.00C855.13,1004.75 858.78,1007.27 862.70,1010.00C866.62,1012.73 870.73,1015.11 874.40,1016.39C878.07,1017.67 881.28,1018.02 884.70,1017.69C888.12,1017.35 891.25,1015.48 894.90,1014.35C898.55,1013.23 902.55,1011.85 906.60,1010.93C910.65,1010.00 913.88,1009.75 919.20,1008.80C924.52,1007.84 932.08,1005.05 938.50,1005.19C944.92,1005.32 951.28,1007.76 957.70,1009.63C964.12,1011.50 970.58,1014.46 977.00,1016.39C983.42,1018.32 990.70,1020.08 996.20,1021.20C1001.70,1022.33 1007.70,1022.82 1010.00,1023.15" fill="none" stroke="#ff0000" stroke-width="17.20" stroke-linejoin="round" stroke-linecap="round"/></g>
<polyline points="353.2,1143.4 354.7,1133.1 356.1,1116.3 359.1,1097.2 361.3,1075.9 363.2,1055.1 364.9,1036.3 367.9,1021.7" fill="none" stroke="#ff0000" stroke-width="5"/>
<circle cx="353.2" cy="1143.4" r="9" fill="#ff0000"/>
<circle cx="354.7" cy="1133.1" r="9" fill="#ff0000"/>
<circle cx="356.1" cy="1116.3" r="9" fill="#ff0000"/>
<circle cx="359.1" cy="1097.2" r="9" fill="#ff0000"/>
<circle cx="361.3" cy="1075.9" r="9" fill="#ff0000"/>
<circle cx="363.2" cy="1055.1" r="9" fill="#ff0000"/>
<circle cx="364.9" cy="1036.3" r="9" fill="#ff0000"/>
<circle cx="367.9" cy="1021.7" r="9" fill="#ff0000"/>
</g>
<line x1="751" y1="82.2" x2="904" y2="82.2" stroke="#000" stroke-width="5"/>
<rect x="819" y="74" width="17" height="16" fill="#000"/>
<line x1="751" y1="163.7" x2="904" y2="163.7" stroke="#ff0000" stroke-width="5"/>
<circle cx="827.5" cy="164" r="9" fill="#ff0000"/>
<text x="916.5" y="106" class="lg">xx</text>
<text x="916.5" y="188.8" class="lg">yy</text>
<text x="218.0" y="1295.7" class="xl">0.0</text>
<text x="413.1" y="1295.7" class="xl">2.5</text>
<text x="608.2" y="1295.7" class="xl">5.0</text>
<text x="803.4" y="1295.7" class="xl">7.5</text>
<text x="998.5" y="1295.7" class="xl">10.0</text>
<text x="360.8" y="1366" class="xt">Photon energy (eV)</text>
<text transform="translate(84.21,862.77) rotate(-90) scale(1.0043,0.8402)" class="yt">&#945;</text>
<text transform="translate(83.66,807.18) rotate(-90) scale(0.7121,0.6615)" class="yt">(</text>
<text transform="translate(84.33,784.78) rotate(-90) scale(0.7759,0.7203)" class="yt">&#969;</text>
<text transform="translate(83.66,734.22) rotate(-90) scale(0.7082,0.6615)" class="yt">)</text>
<text transform="translate(83.66,694.03) rotate(-90) scale(0.7004,0.6615)" class="yt">(</text>
<text transform="translate(90.02,672.11) rotate(-90) scale(0.6658,0.6823)" class="yt">&#215;</text>
<text transform="translate(83.95,629.27) rotate(-90) scale(0.4119,0.6455)" class="yt">1</text>
<text transform="translate(85.56,599.43) rotate(-90) scale(0.6274,0.6904)" class="yt">0</text>
<text transform="translate(44.15,567.26) rotate(-90) scale(0.4030,0.4301)" class="yt">4</text>
<text transform="translate(84.73,545.75) rotate(-90) scale(0.6331,0.7160)" class="yt">/</text>
<text transform="translate(84.23,526.87) rotate(-90) scale(0.7147,0.7235)" class="yt">c</text>
<text transform="translate(83.95,493.49) rotate(-90) scale(0.7328,0.6964)" class="yt">m</text>
<text transform="translate(83.66,438.53) rotate(-90) scale(0.7432,0.6615)" class="yt">)</text>
</g></svg>
</body></html>
